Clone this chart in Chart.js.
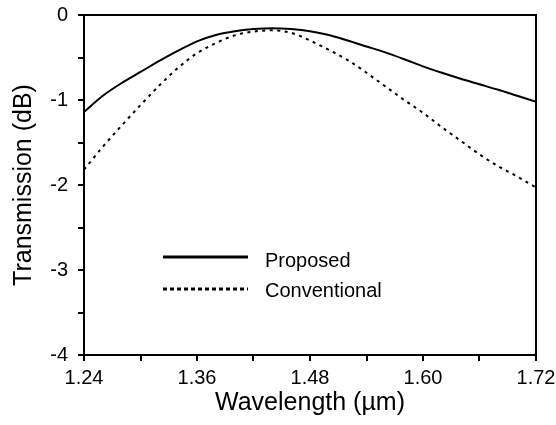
<!DOCTYPE html>
<html>
<head>
<meta charset="utf-8">
<script src="https://cdn.jsdelivr.net/npm/chart.js@4.4.1/dist/chart.umd.min.js"></script>
<style>
  html, body { margin: 0; padding: 0; background: #fff; }
  #wrap { width: 556px; height: 425px; }
</style>
</head>
<body>
<div id="wrap"><canvas id="chart" width="556" height="425"></canvas></div>
<script>
// wavelength samples (um)
const wavelength = [1.24, 1.26, 1.28, 1.30, 1.32, 1.34, 1.36, 1.38, 1.40, 1.42, 1.44, 1.46, 1.48,
                    1.50, 1.52, 1.54, 1.56, 1.58, 1.60, 1.62, 1.64, 1.66, 1.68, 1.70, 1.72];
const proposed = [-1.14, -0.95, -0.80, -0.67, -0.54, -0.42, -0.31, -0.235, -0.19, -0.165, -0.155, -0.165, -0.19,
                  -0.235, -0.30, -0.37, -0.44, -0.52, -0.605, -0.68, -0.75, -0.815, -0.88, -0.95, -1.02];
const conventional = [-1.82, -1.55, -1.30, -1.06, -0.83, -0.62, -0.45, -0.33, -0.24, -0.195, -0.18, -0.21, -0.30,
                      -0.41, -0.53, -0.68, -0.84, -1.00, -1.15, -1.32, -1.48, -1.64, -1.78, -1.90, -2.03];
const xTicks = [1.24, 1.30, 1.36, 1.42, 1.48, 1.54, 1.60, 1.66, 1.72];
const xLabels = ['1.24', '', '1.36', '', '1.48', '', '1.60', '', '1.72'];
const yTicks = [-4, -3.5, -3, -2.5, -2, -1.5, -1, -0.5, 0];
const yLabels = ['-4', '', '-3', '', '-2', '', '-1', '', '0'];

const FONT = "'Liberation Sans', Arial, Helvetica, sans-serif";

const toPoints = ys => wavelength.map((x, i) => ({ x: x, y: ys[i] }));

// frame + in-plot legend
const framePlugin = {
    id: 'frame',
    afterDraw(chart) {
        const { ctx, chartArea: a } = chart;
        ctx.save();
        ctx.strokeStyle = '#000';
        ctx.lineWidth = 2;
        ctx.strokeRect(a.left, a.top, a.right - a.left, a.bottom - a.top);

        // legend
        const x0 = a.left + 79, x1 = a.left + 164, tx = a.left + 181;
        ctx.lineWidth = 3;
        ctx.setLineDash([]);
        ctx.beginPath(); ctx.moveTo(x0, 257); ctx.lineTo(x1, 257); ctx.stroke();
        ctx.setLineDash([4, 3]);
        ctx.beginPath(); ctx.moveTo(x0, 289); ctx.lineTo(x1, 289); ctx.stroke();
        ctx.setLineDash([]);
        ctx.fillStyle = '#000';
        ctx.font = '20px ' + FONT;
        ctx.textBaseline = 'middle';
        ctx.fillText('Proposed', tx, 261);
        ctx.fillText('Conventional', tx, 291);
        ctx.restore();
    }
};

new Chart(document.getElementById('chart'), {
    type: 'line',
    data: {
        datasets: [{
            label: 'Proposed',
            data: toPoints(proposed),
            borderColor: '#000',
            borderWidth: 2,
            pointRadius: 0,
            tension: 0.3,
            cubicInterpolationMode: 'monotone'
        }, {
            label: 'Conventional',
            data: toPoints(conventional),
            borderColor: '#000',
            borderWidth: 2,
            borderDash: [3, 4.5],
            pointRadius: 0,
            tension: 0.3,
            cubicInterpolationMode: 'monotone'
        }]
    },
    options: {
        responsive: false,
        animation: false,
        layout: { padding: { top: 15, right: 20, left: 0, bottom: 0 } },
        plugins: { legend: { display: false }, tooltip: { enabled: false } },
        scales: {
            x: {
                type: 'linear',
                min: 1.24,
                max: 1.72,
                afterBuildTicks: s => { s.ticks = xTicks.map(v => ({ value: v })); },
                afterFit: s => { s.height = 70; s.paddingLeft = 0; s.paddingRight = 0; },
                ticks: {
                    autoSkip: false,
                    maxRotation: 0,
                    color: '#000',
                    font: { family: FONT, size: 20 },
                    padding: 5,
                    callback: (v, i) => xLabels[i]
                },
                grid: { drawOnChartArea: false, tickLength: 6, color: '#000', lineWidth: 2 },
                border: { color: '#000', width: 2 },
                title: {
                    display: true,
                    text: 'Wavelength (\u00b5m)',
                    color: '#000',
                    font: { family: FONT, size: 25 },
                    padding: { top: 2, bottom: 7 }
                }
            },
            y: {
                min: -4,
                max: 0,
                afterBuildTicks: s => { s.ticks = yTicks.map(v => ({ value: v })); },
                afterFit: s => { s.width = 84; s.paddingTop = 0; s.paddingBottom = 0; },
                ticks: {
                    color: '#000',
                    font: { family: FONT, size: 20 },
                    padding: 10,
                    callback: (v, i) => yLabels[i]
                },
                grid: { drawOnChartArea: false, tickLength: 6, color: '#000', lineWidth: 2 },
                border: { color: '#000', width: 2 },
                title: {
                    display: true,
                    text: 'Transmission (dB)',
                    color: '#000',
                    font: { family: FONT, size: 25 },
                    padding: { top: 9, bottom: 4 }
                }
            }
        }
    },
    plugins: [framePlugin]
});
</script>
</body>
</html>
